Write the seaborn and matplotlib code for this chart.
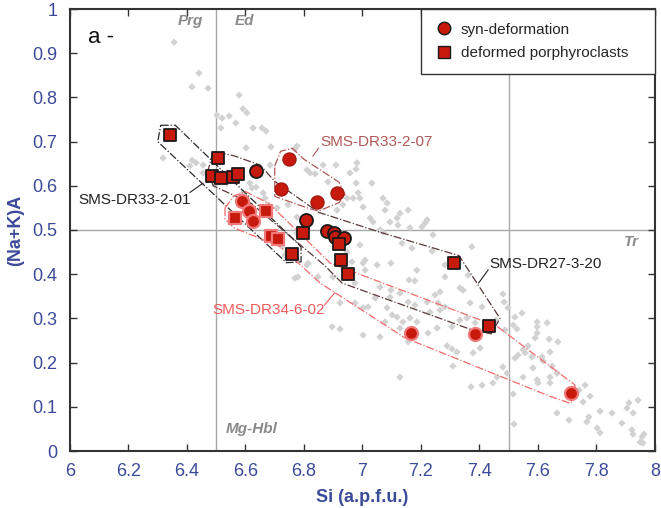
import numpy as np
import matplotlib
matplotlib.use("Agg")
import matplotlib.pyplot as plt
from matplotlib.lines import Line2D
import seaborn as sns
import pandas as pd

# ---- background amphibole analyses (grey diamonds) ----
gray_si = [6.356, 6.441, 6.417, 6.472, 6.578, 6.591, 6.605, 6.502, 6.520, 6.544, 6.516, 6.567, 6.626, 6.656,
           6.670, 6.602, 6.687, 6.776, 6.769, 6.318, 6.417, 6.410, 6.455, 6.455, 6.431, 6.496, 6.537, 6.615,
           6.622, 6.636, 6.660, 6.591, 6.810, 6.821, 6.838, 6.677, 6.745, 6.776, 6.848, 6.626, 6.776, 6.810,
           6.684, 6.598, 6.667, 6.708,
           6.865, 6.909, 6.978, 6.882, 6.978, 6.985, 6.991, 6.968, 6.947, 6.933, 6.913, 7.070, 7.084, 7.077,
           7.026, 7.036, 7.128, 7.156, 7.118, 7.094, 7.121, 7.221, 7.214, 7.203, 7.162, 7.060, 7.070, 7.241,
           7.002, 7.032, 6.957, 6.981,
           7.374, 7.238, 7.135, 7.169, 6.964, 7.002, 7.050, 7.097, 7.186, 7.159, 7.179, 7.282, 7.282, 7.361,
           7.060, 7.097, 7.128, 7.094, 7.043, 6.974, 7.002, 7.019, 7.084, 7.156, 7.179, 7.221, 7.248, 7.265,
           7.258, 7.231, 7.265, 7.282, 7.333, 7.344, 7.368, 7.333, 7.357, 7.306, 7.409, 7.385, 7.162, 7.186,
           7.101, 7.118, 7.077, 7.138, 7.128, 7.224, 7.255, 7.156, 6.896, 6.923, 7.002, 7.060, 7.289, 7.306,
           7.323, 7.378, 7.402, 7.309, 7.128, 7.371, 7.409, 6.923,
           6.814, 6.725, 6.735, 6.776, 6.779, 6.848, 6.899, 6.974, 7.009, 7.009, 6.991, 6.947, 6.810, 6.769,
           7.480, 7.484, 7.497, 7.545, 7.521, 7.456, 7.487, 7.515, 7.528, 7.597, 7.631, 7.597, 7.597, 7.638,
           7.668, 7.590, 7.566, 7.549, 7.532, 7.556, 7.579, 7.614, 7.617, 7.641, 7.648, 7.665, 7.583, 7.480,
           7.521, 7.494, 7.460, 7.446, 7.549, 7.597, 7.600, 7.641, 7.641, 7.515, 7.761, 7.778, 7.740, 7.754,
           7.665, 7.706, 7.518, 7.767, 7.774, 7.812, 7.853, 7.802, 7.812, 7.887, 7.904, 7.911, 7.925, 7.942,
           7.921, 7.925, 7.956, 7.962, 7.949, 7.959]
gray_na = [0.925, 0.855, 0.824, 0.821, 0.805, 0.774, 0.765, 0.760, 0.753, 0.758, 0.731, 0.742, 0.731, 0.731,
           0.724, 0.686, 0.688, 0.690, 0.683, 0.663, 0.658, 0.645, 0.647, 0.629, 0.652, 0.602, 0.606, 0.606,
           0.595, 0.597, 0.584, 0.584, 0.636, 0.629, 0.627, 0.557, 0.557, 0.529, 0.568, 0.527, 0.493, 0.500,
           0.647, 0.555, 0.572, 0.550,
           0.647, 0.647, 0.638, 0.609, 0.606, 0.584, 0.572, 0.572, 0.572, 0.557, 0.545, 0.572, 0.561, 0.545,
           0.527, 0.518, 0.538, 0.545, 0.527, 0.518, 0.511, 0.523, 0.516, 0.507, 0.505, 0.500, 0.495, 0.489,
           0.552, 0.606, 0.629, 0.652,
           0.462, 0.452, 0.470, 0.459, 0.428, 0.425, 0.421, 0.425, 0.409, 0.387, 0.385, 0.421, 0.394, 0.398,
           0.371, 0.364, 0.357, 0.348, 0.346, 0.335, 0.324, 0.326, 0.324, 0.337, 0.330, 0.337, 0.353, 0.360,
           0.335, 0.314, 0.319, 0.326, 0.369, 0.364, 0.335, 0.296, 0.301, 0.281, 0.326, 0.290, 0.301, 0.292,
           0.308, 0.303, 0.292, 0.292, 0.278, 0.267, 0.278, 0.247, 0.281, 0.276, 0.262, 0.258, 0.238, 0.231,
           0.224, 0.222, 0.233, 0.192, 0.167, 0.145, 0.149, 0.335,
           0.425, 0.462, 0.443, 0.432, 0.394, 0.394, 0.394, 0.380, 0.409, 0.432, 0.466, 0.450, 0.421, 0.391,
           0.355, 0.337, 0.324, 0.312, 0.303, 0.296, 0.274, 0.285, 0.276, 0.292, 0.290, 0.281, 0.267, 0.253,
           0.247, 0.256, 0.238, 0.229, 0.217, 0.222, 0.213, 0.213, 0.204, 0.224, 0.192, 0.176, 0.188, 0.190,
           0.210, 0.176, 0.167, 0.154, 0.167, 0.161, 0.154, 0.167, 0.154, 0.129, 0.149, 0.124, 0.138, 0.111,
           0.086, 0.070, 0.061, 0.066, 0.077, 0.090, 0.086, 0.052, 0.041, 0.063, 0.097, 0.109, 0.086, 0.115,
           0.048, 0.038, 0.032, 0.038, 0.020, 0.018]

# ---- samples: (Si, (Na+K)A, type) ----
dr33_201_si = [6.342, 6.759]
dr33_201_na = [0.716, 0.446]
dr33_201_kind = ["sq", "sq"]

dr27_si = [6.506, 6.485, 6.516, 6.557, 6.575, 6.797, 6.920, 6.926, 6.950, 7.313, 7.432,
           6.636, 6.807, 6.878, 6.902, 6.906, 6.936]
dr27_na = [0.663, 0.622, 0.618, 0.620, 0.627, 0.493, 0.468, 0.432, 0.400, 0.425, 0.283,
           0.634, 0.523, 0.498, 0.493, 0.484, 0.482]
dr27_kind = ["sq"] * 11 + ["ci"] * 6

dr33_207_si = [6.749, 6.721, 6.844, 6.913]
dr33_207_na = [0.661, 0.593, 0.563, 0.584]
dr33_207_kind = ["ci"] * 4

dr34_si = [6.588, 6.612, 6.626, 7.166, 7.385, 7.713, 6.564, 6.670, 6.687, 6.711]
dr34_na = [0.565, 0.543, 0.520, 0.267, 0.265, 0.131, 0.527, 0.543, 0.486, 0.480]
dr34_kind = ["ci"] * 6 + ["sq"] * 4

# ---- sample outlines (hand-drawn envelopes) ----
hull_dr33_201 = [(6.31, 0.737), (6.36, 0.737), (6.79, 0.462), (6.79, 0.428), (6.74, 0.426), (6.30, 0.70)]
hull_dr27 = [(6.47, 0.63), (6.49, 0.678), (6.56, 0.668), (6.65, 0.647), (6.70, 0.61), (6.85, 0.54),
             (7.06, 0.495), (7.33, 0.442), (7.47, 0.30), (7.44, 0.265), (7.37, 0.275), (6.93, 0.38),
             (6.87, 0.42), (6.62, 0.56), (6.49, 0.60)]
hull_dr33_207 = [(6.70, 0.645), (6.72, 0.678), (6.76, 0.685), (6.80, 0.66), (6.92, 0.608), (6.94, 0.58),
                 (6.92, 0.562), (6.85, 0.543), (6.82, 0.548), (6.70, 0.576)]
hull_dr34 = [(6.53, 0.55), (6.56, 0.577), (6.60, 0.587), (6.68, 0.56), (6.89, 0.425), (7.46, 0.282),
             (7.725, 0.15), (7.735, 0.125), (7.71, 0.108), (7.64, 0.124), (7.145, 0.256), (6.855, 0.38),
             (6.72, 0.462), (6.56, 0.505), (6.53, 0.525)]

sns.set_style("ticks")
plt.rcParams["font.family"] = ["Liberation Sans", "DejaVu Sans"]

RED = "#c8190d"
BLUE = "#3c4a9a"
GREY_TXT = "#8a8a8a"

fig = plt.figure(figsize=(6.61, 5.08), dpi=100)
ax = fig.add_axes([70 / 661, 57 / 508, 585 / 661, 442 / 508])

# classification boundaries
ax.axvline(6.5, color="#a8a8a8", lw=1.0, zorder=0)
ax.axvline(7.5, color="#a8a8a8", lw=1.0, zorder=0)
ax.axhline(0.5, color="#a8a8a8", lw=1.0, zorder=0)

gray = pd.DataFrame({"si": gray_si, "na": gray_na})
sns.scatterplot(data=gray, x="si", y="na", ax=ax, marker="D", s=14, color="#d2d2d2",
                edgecolor="none", linewidth=0, zorder=1, legend=False)

for hull, col in [(hull_dr33_201, "#2a2a2a"), (hull_dr27, "#5a3838"),
                  (hull_dr33_207, "#b05858"), (hull_dr34, "#f06a6a")]:
    hx = [p[0] for p in hull] + [hull[0][0]]
    hy = [p[1] for p in hull] + [hull[0][1]]
    ax.plot(hx, hy, ls="-.", lw=0.9, color=col, zorder=2)

groups = [
    (dr33_201_si, dr33_201_na, dr33_201_kind, "#1a1a1a", 1.3),
    (dr27_si, dr27_na, dr27_kind, "#1a1a1a", 1.3),
    (dr33_207_si, dr33_207_na, dr33_207_kind, "#a51a10", 1.0),
    (dr34_si, dr34_na, dr34_kind, "#f07a7a", 1.6),
]
for si, na, kind, ec, lw in groups:
    df = pd.DataFrame({"si": si, "na": na, "kind": kind})
    ci = df[df["kind"] == "ci"]
    sq = df[df["kind"] == "sq"]
    if len(ci):
        sns.scatterplot(data=ci, x="si", y="na", ax=ax, marker="o", s=88, color=RED,
                        edgecolor=ec, linewidth=lw, zorder=4, legend=False)
    if len(sq):
        sns.scatterplot(data=sq, x="si", y="na", ax=ax, marker="s", s=76, color=RED,
                        edgecolor=ec, linewidth=lw, zorder=4, legend=False)

# sample labels with leader lines
ax.text(6.027, 0.568, "SMS-DR33-2-01", fontsize=11, color="#222222", va="center", ha="left")
ax.plot([6.41, 6.455], [0.585, 0.606], color="#222222", lw=0.8)
ax.text(6.855, 0.699, "SMS-DR33-2-07", fontsize=11, color="#b05858", va="center", ha="left")
ax.plot([6.85, 6.83], [0.685, 0.667], color="#b05858", lw=0.8)
ax.text(6.485, 0.319, "SMS-DR34-6-02", fontsize=11, color="#f05a5a", va="center", ha="left")
ax.plot([6.87, 6.905], [0.33, 0.358], color="#f05a5a", lw=0.8)
ax.text(7.432, 0.423, "SMS-DR27-3-20", fontsize=11, color="#222222", va="center", ha="left")
ax.plot([7.43, 7.397], [0.41, 0.38], color="#222222", lw=0.8)

# field names
kw = dict(fontsize=11, color=GREY_TXT, fontweight="bold", fontstyle="italic", va="center", ha="center")
ax.text(6.41, 0.972, "Prg", **kw)
ax.text(6.598, 0.972, "Ed", **kw)
ax.text(7.918, 0.473, "Tr", **kw)
ax.text(6.622, 0.05, "Mg-Hbl", **kw)
ax.text(6.06, 0.935, "a -", fontsize=16, color="#111111", va="center", ha="left")

ax.set_xlim(6, 8)
ax.set_ylim(0, 1)
ax.set_xticks(np.arange(6, 8.01, 0.2))
ax.set_yticks(np.arange(0, 1.01, 0.1))
ax.set_xticklabels(["6", "6.2", "6.4", "6.6", "6.8", "7", "7.2", "7.4", "7.6", "7.8", "8"])
ax.set_yticklabels(["0", "0.1", "0.2", "0.3", "0.4", "0.5", "0.6", "0.7", "0.8", "0.9", "1"])
ax.tick_params(direction="in", length=5, width=1.0, color="#333333", top=True, right=True,
               labelsize=13, labelcolor=BLUE, pad=9)
for sp in ax.spines.values():
    sp.set_color("#333333")
    sp.set_linewidth(1.5)

ax.set_xlabel("Si (a.p.f.u.)", fontsize=13, fontweight="bold", color=BLUE, labelpad=6)
ax.set_ylabel("(Na+K)A", fontsize=13, fontweight="bold", color=BLUE, labelpad=6)

handles = [
    Line2D([], [], marker="o", ls="none", markersize=9, markerfacecolor=RED, markeredgecolor="#1a1a1a",
           markeredgewidth=1.0, label="syn-deformation"),
    Line2D([], [], marker="s", ls="none", markersize=8, markerfacecolor=RED, markeredgecolor="#1a1a1a",
           markeredgewidth=1.0, label="deformed porphyroclasts"),
]
leg = ax.legend(handles=handles, loc="upper right", bbox_to_anchor=(0.6, 0.0, 0.4, 1.0), mode="expand",
                borderaxespad=0, fontsize=11, frameon=True, fancybox=False, framealpha=1,
                edgecolor="#333333", borderpad=0.9, handletextpad=0.5, labelspacing=0.6, handlelength=1.2)
leg.get_frame().set_linewidth(1.0)
leg.set_zorder(6)

fig.savefig("out.png", dpi=100)
